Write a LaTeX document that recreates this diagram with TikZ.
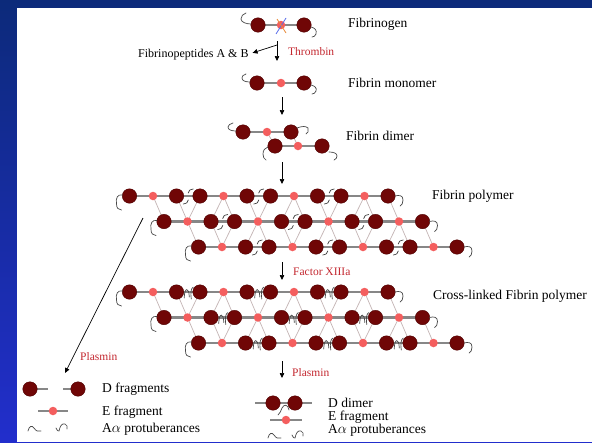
\documentclass[tikz,border=0pt]{standalone}
\usepackage{fontspec}
\setmainfont{Liberation Serif}
\usetikzlibrary{arrows.meta,calc}
\pgfdeclarelayer{canvas}
\pgfdeclarelayer{under}
\pgfsetlayers{canvas,under,main}

\definecolor{dred}{RGB}{112,6,6}
\definecolor{dredline}{RGB}{78,0,0}
\definecolor{epink}{RGB}{244,94,94}
\definecolor{rodgray}{RGB}{135,135,135}
\definecolor{latcol}{RGB}{196,180,180}
\definecolor{labred}{RGB}{196,40,48}
\definecolor{navytop}{RGB}{12,42,122}
\definecolor{bluebot}{RGB}{34,46,204}
\definecolor{cutblue}{RGB}{90,110,235}
\definecolor{cutorange}{RGB}{232,140,60}

\tikzset{
  Dbead/.style={circle, fill=dred, draw=dredline, line width=0.4pt, minimum size=14.5pt, inner sep=0pt},
  Ebead/.style={circle, fill=epink, minimum size=8.5pt, inner sep=0pt},
  rod/.style={draw=rodgray, line width=2.6pt},
  lattice/.style={draw=latcol, line width=0.7pt},
  tail/.style={draw=black!72, line width=0.7pt, line cap=round},
  arr/.style={draw=black, line width=0.7pt, -{Triangle[length=5pt,width=4.5pt]}},
  lab/.style={anchor=base west, inner sep=0pt, font=\fontsize{13.5}{15}\selectfont},
  redlab/.style={anchor=base west, inner sep=0pt, text=labred, font=\fontsize{11.5}{13}\selectfont},
  % alpha-C tails
  lhang/.pic={\draw[tail] (-7,-1) .. controls (-12,-2) and (-14,2) .. (-13,8) .. controls (-13,12) and (-11,14) .. (-8,14);},
  rhook/.pic={\draw[tail] (7,0) .. controls (11,-1) and (15,-1) .. (15,4) .. controls (15,7) and (14,9) .. (12,10);},
  jtick/.pic={\draw[tail] (0,-3) .. controls (1,-6) .. (5,-7);
              \draw[tail] (0,4) .. controls (-1,7) .. (-5,8);},
  xlink/.pic={\draw[tail] (-4,6) .. controls (-4,-5) and (1,-5) .. (1,5);
              \draw[tail] (3,7) .. controls (2,0) and (3,-4) .. (5,-5);},
}

% three half-staggered protofibril rows; #1 name prefix, #2 y of the top row, #3 junction pic
\newcommand\fibpolymer[3]{%
  \foreach \r in {0,1,2} {
    \foreach \k in {0,1,2,3} {
      \pgfmathsetmacro\ex{153+34.5*\r+70.5*\k}
      \pgfmathsetmacro\ey{#2+25.5*\r}
      \node[Ebead] (#1-\r-\k-E) at (\ex,\ey) {};
      \node[Dbead] (#1-\r-\k-L) at (\ex-23.5,\ey) {};
      \node[Dbead] (#1-\r-\k-R) at (\ex+23.5,\ey) {};
    }
  }
  \begin{pgfonlayer}{under}
    \foreach \r/\s in {0/1,1/2} {
      \foreach \k in {0,1,2,3} {\draw[lattice] (#1-\r-\k-E.center) -- (#1-\s-\k-L.center);}
      \foreach \k/\j in {1/0,2/1,3/2} {\draw[lattice] (#1-\r-\k-E.center) -- (#1-\s-\j-R.center);}
    }
    \foreach \r/\s in {1/0,2/1} {
      \foreach \k in {0,1,2,3} {\draw[lattice] (#1-\r-\k-E.center) -- (#1-\s-\k-R.center);}
      \foreach \k/\j in {0/1,1/2,2/3} {\draw[lattice] (#1-\r-\k-E.center) -- (#1-\s-\j-L.center);}
    }
    \foreach \r in {0,1,2} {\draw[rod] (#1-\r-0-L.center) -- (#1-\r-3-R.center);}
  \end{pgfonlayer}
  \foreach \r in {0,1,2} {
    \pic at (#1-\r-0-L) {lhang};
    \pic at (#1-\r-3-R) {rhook};
    \foreach \k/\j in {0/1,1/2,2/3} {\pic at ($(#1-\r-\k-R)!.5!(#1-\r-\j-L)$) {#3};}
  }
}

\begin{document}
\begin{tikzpicture}[x=1pt,y=-1pt]
\useasboundingbox (0,0) rectangle (592,442);
\begin{pgfonlayer}{canvas}
  \fill[top color=navytop, bottom color=bluebot] (0,0) rectangle (592,442);
  \fill[white] (17,8) rectangle (592,442);
\end{pgfonlayer}

% ---------- fibrinogen ----------
\node[Dbead] (fg-L) at (258,25) {};
\node[Ebead] (fg-E) at (281,25) {};
\node[Dbead] (fg-R) at (304,25) {};
\begin{pgfonlayer}{under}\draw[rod] (fg-L.center) -- (fg-R.center);\end{pgfonlayer}
\draw[tail] (251,24) .. controls (246,24) and (241,22) .. (241,19) .. controls (241,16) and (243,14) .. (246,13);
\draw[tail] (311,27) .. controls (315,28) and (317,30) .. (316,34) .. controls (315,36) and (314,37) .. (312,37);
\draw[cutblue, line width=0.8pt] (286,18) -- (276,34);
\draw[cutorange, line width=0.8pt] (277,19) -- (286,33);
\node[lab] (t-fg) at (348,27.5) {Fibrinogen};

% ---------- thrombin step ----------
\coordinate (a1s) at (277,41);
\coordinate (a1b) at (277,45);
\coordinate (a1e) at (277,61);
\draw[arr] (a1s) -- (a1e);
\node[lab, font=\fontsize{12}{14}\selectfont] (t-fpab) at (138,57) {Fibrinopeptides A \& B};
\draw[arr, shorten >=4pt] (a1b) -- (t-fpab.east);
\node[redlab] (t-thr) at (288,55.5) {Thrombin};

% ---------- fibrin monomer ----------
\node[Dbead] (fm-L) at (257,83) {};
\node[Ebead] (fm-E) at (281,83) {};
\node[Dbead] (fm-R) at (304,83) {};
\begin{pgfonlayer}{under}\draw[rod] (fm-L.center) -- (fm-R.center);\end{pgfonlayer}
\draw[tail] (250,82) .. controls (246,82) and (242,81) .. (242,78) .. controls (242,76) and (243,75) .. (246,74);
\draw[tail] (311,85) .. controls (315,86) and (317,88) .. (316,91) .. controls (315,93) and (314,94) .. (312,94);
\node[lab] (t-fm) at (348,87) {Fibrin monomer};

\coordinate (a2s) at (282,97);
\coordinate (a2e) at (282,115);
\draw[arr] (a2s) -- (a2e);

% ---------- fibrin dimer ----------
\node[Dbead] (dt-L) at (243,132) {};
\node[Ebead] (dt-E) at (267,132) {};
\node[Dbead] (dt-R) at (291,132) {};
\node[Dbead] (db-L) at (275,146) {};
\node[Ebead] (db-E) at (298,146) {};
\node[Dbead] (db-R) at (322,146) {};
\begin{pgfonlayer}{under}
  \draw[lattice] (dt-E.center) -- (db-L.center);
  \draw[lattice] (dt-R.center) -- (db-E.center);
  \draw[rod] (dt-L.center) -- (dt-R.center);
  \draw[rod] (db-L.center) -- (db-R.center);
\end{pgfonlayer}
\draw[tail] (236,131) .. controls (232,131) and (228,130) .. (228,127) .. controls (228,125) and (230,124) .. (233,123);
\draw[tail] (297,128) .. controls (302,126) and (306,126) .. (308,128) .. controls (309,131) and (308,133) .. (306,134);
\draw[tail] (268,147) .. controls (265,148) and (263,150) .. (263,154) .. controls (263,157) and (264,159) .. (266,160);
\draw[tail] (329,152) .. controls (333,152) and (337,153) .. (337,156) .. controls (337,158) and (336,159) .. (334,160);
\node[lab] (t-fd) at (346,140) {Fibrin dimer};

\coordinate (a3s) at (282,162);
\coordinate (a3e) at (282,184);
\draw[arr] (a3s) -- (a3e);

% ---------- fibrin polymer ----------
\fibpolymer{fp}{196}{jtick}
\node[lab] (t-fp) at (432,199) {Fibrin polymer};

\coordinate (a4s) at (282,262);
\coordinate (a4e) at (282,280);
\draw[arr] (a4s) -- (a4e);
\node[redlab] (t-f13) at (293,275) {Factor XIIIa};

% ---------- cross-linked fibrin polymer ----------
\fibpolymer{xp}{292}{xlink}
\node[lab] (t-xfp) at (433,299) {Cross-linked Fibrin polymer};

% ---------- plasmin on fibrin polymer ----------
\coordinate (p1s) at (143,218);
\coordinate (p1e) at (65,373);
\draw[arr] (p1s) -- (p1e);
\node[redlab] (t-pl1) at (80,360) {Plasmin};

\node[Dbead] (lg-D1) at (30,389) {};
\node[Dbead] (lg-D2) at (78,389) {};
\coordinate (lg-D1s) at (48,389);
\coordinate (lg-D2s) at (63,389);
\node[Ebead] (lg-E) at (53,411) {};
\coordinate (lg-Ea) at (38,411);
\coordinate (lg-Eb) at (68,411);
\begin{pgfonlayer}{under}
  \draw[rod] (lg-D1.center) -- (lg-D1s);
  \draw[rod] (lg-D2s) -- (lg-D2.center);
  \draw[rod] (lg-Ea) -- (lg-Eb);
\end{pgfonlayer}
\draw[tail] (28,431) .. controls (29,426) and (32,425) .. (34,428) .. controls (36,431) and (38,432) .. (41,431);
\draw[tail] (56,428) .. controls (57,430) and (58,432) .. (59,431) .. controls (60,426) and (62,423) .. (65,424) .. controls (67,425) and (68,427) .. (67,429);
\node[lab] (t-dfr) at (102,392.5) {D fragments};
\node[lab] (t-efr1) at (102,415) {E fragment};
\node[lab] (t-aa1) at (102,432.5) {A$\alpha$ protuberances};

% ---------- plasmin on cross-linked polymer ----------
\coordinate (a5s) at (282,361);
\coordinate (a5e) at (282,378);
\draw[arr] (a5s) -- (a5e);
\node[redlab] (t-pl2) at (292,376) {Plasmin};

\node[Dbead] (dd-L) at (273,403) {};
\node[Dbead] (dd-R) at (295,403) {};
\coordinate (dd-a) at (255,403);
\coordinate (dd-b) at (312,403);
\node[Ebead] (rf-E) at (286,420) {};
\coordinate (rf-a) at (270,420);
\coordinate (rf-b) at (302,420);
\begin{pgfonlayer}{under}
  \draw[rod] (dd-a) -- (dd-b);
  \draw[rod] (rf-a) -- (rf-b);
\end{pgfonlayer}
\draw[tail] (289,410) .. controls (288,404) and (284,404) .. (282,408) .. controls (281,411) and (280,413) .. (278,415);
\draw[tail] (268,438) .. controls (269,433) and (272,432) .. (274,435) .. controls (276,438) and (278,439) .. (281,438);
\draw[tail] (292,435) .. controls (293,437) and (294,439) .. (295,438) .. controls (296,433) and (298,430) .. (301,431) .. controls (303,432) and (304,434) .. (303,436);
\node[lab] (t-dd) at (328,407.5) {D dimer};
\node[lab] (t-efr2) at (328,420) {E fragment};
\node[lab] (t-aa2) at (328,433) {A$\alpha$ protuberances};
\end{tikzpicture}
\end{document}
